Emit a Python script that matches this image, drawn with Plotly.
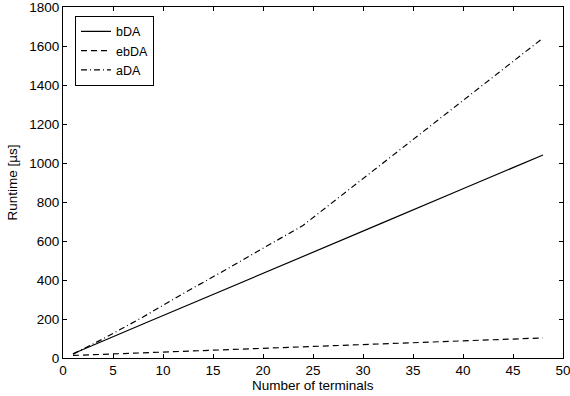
import plotly.graph_objects as go

terminals = [1, 2, 4, 8, 12, 16, 24, 32, 40, 48]
bDA = [22, 43, 87, 174, 260, 347, 521, 694, 868, 1041]
ebDA = [13, 15, 19, 27, 34, 42, 57, 72, 88, 103]
aDA = [20, 45, 98, 210, 330, 445, 680, 1000, 1320, 1641]

x_ticks = [0, 5, 10, 15, 20, 25, 30, 35, 40, 45, 50]
y_ticks = [0, 200, 400, 600, 800, 1000, 1200, 1400, 1600, 1800]

FONT = "Liberation Sans, Arial, sans-serif"
FS = 13.5

fig = go.Figure()
fig.add_trace(go.Scatter(x=terminals, y=bDA, mode="lines", name="bDA",
                         line=dict(color="black", width=1.2, dash="solid")))
fig.add_trace(go.Scatter(x=terminals, y=ebDA, mode="lines", name="ebDA",
                         line=dict(color="black", width=1.2, dash="6px,4px")))
fig.add_trace(go.Scatter(x=terminals, y=aDA, mode="lines", name="aDA",
                         line=dict(color="black", width=1.2, dash="6px,3px,1px,3px")))

axis_common = dict(
    showgrid=False, zeroline=False, showline=True, linecolor="black", linewidth=1.2,
    mirror="ticks", ticks="inside", ticklen=4, tickcolor="black", tickwidth=1,
    tickfont=dict(family=FONT, size=FS, color="black"), automargin=False,
    ticklabeloverflow="allow",
)

fig.update_layout(
    width=570, height=396,
    margin=dict(l=63, r=7, t=7, b=38),
    paper_bgcolor="white", plot_bgcolor="white",
    font=dict(family=FONT, size=FS, color="black"),
    xaxis=dict(range=[0, 50], tickvals=x_ticks, ticklabelstandoff=0, **axis_common),
    yaxis=dict(range=[0, 1800], tickvals=y_ticks, **axis_common),
    legend=dict(x=0.024, y=0.975, xanchor="left", yanchor="top",
                bordercolor="black", borderwidth=1, bgcolor="white",
                font=dict(family=FONT, size=12.5), tracegroupgap=0,
                itemwidth=30),
    showlegend=True,
    annotations=[
        dict(text="Number of terminals", xref="paper", yref="paper",
             x=0.5, y=0, xanchor="center", yanchor="top", yshift=-18,
             showarrow=False, font=dict(family=FONT, size=FS)),
        dict(text="Runtime [µs]", xref="paper", yref="paper",
             x=0, y=0.5, xanchor="center", yanchor="middle", xshift=-51,
             textangle=-90, showarrow=False, font=dict(family=FONT, size=FS)),
    ],
)

fig.write_html("out.html", config={"displayModeBar": False},
               post_script="document.body.style.margin='0px';document.body.style.overflow='hidden';")
